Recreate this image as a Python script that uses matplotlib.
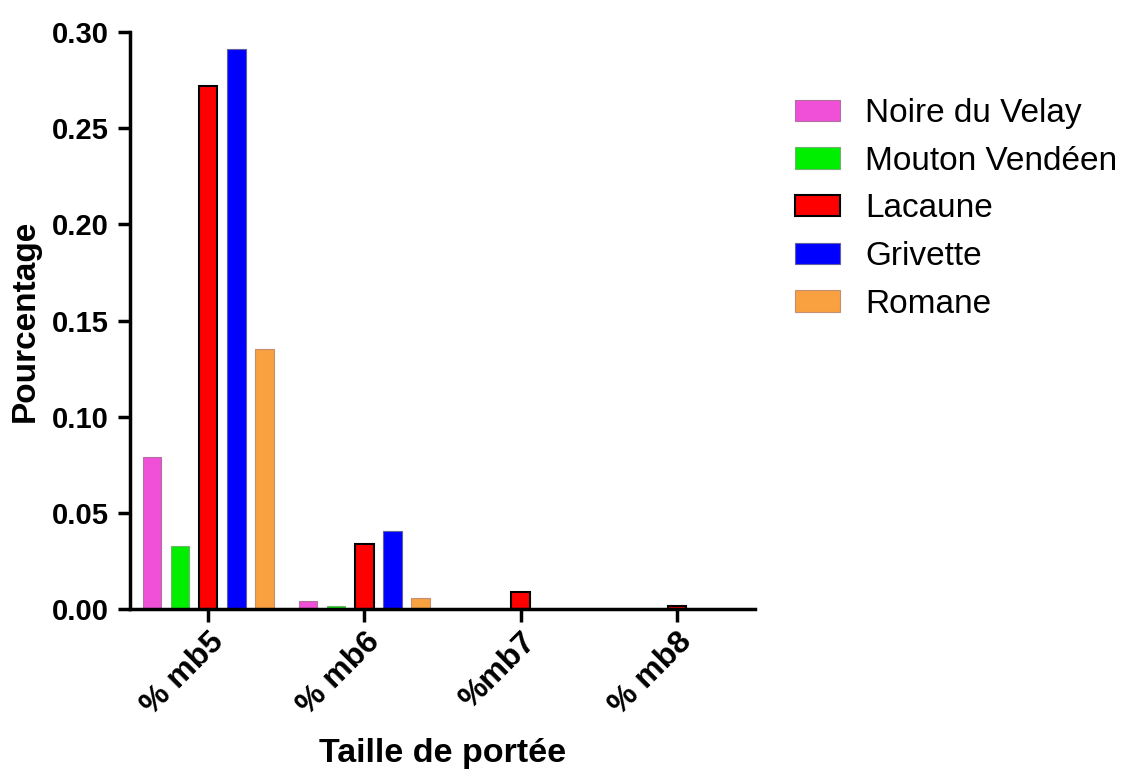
import matplotlib
matplotlib.use('Agg')
import matplotlib.pyplot as plt
import matplotlib.patches as mpatches
import numpy as np

plt.rcParams['font.family'] = ['Liberation Sans', 'DejaVu Sans']

# données
categories = ['% mb5', '% mb6', '%mb7', '% mb8']
races = ['Noire du Velay', 'Mouton Vendéen', 'Lacaune', 'Grivette', 'Romane']
valeurs = {
    'Noire du Velay': [0.079, 0.004, 0.0, 0.0],
    'Mouton Vendéen': [0.033, 0.0015, 0.0, 0.0],
    'Lacaune':        [0.272, 0.034, 0.0089, 0.0015],
    'Grivette':       [0.291, 0.0405, 0.0, 0.0],
    'Romane':         [0.135, 0.0057, 0.0, 0.0],
}
couleurs = ['#f050d8', '#00ee00', '#ff0000', '#0000ff', '#f9a040']
bords = ['#b070a0', '#70b070', '#000000', '#6060a0', '#c09070']

fig = plt.figure(figsize=(11.23, 7.72), dpi=100)
ax = fig.add_axes([0.1158, 0.2111, 0.5565, 0.7474])

x = np.arange(len(categories))
pas = 0.18
largeur = 0.118
for i, race in enumerate(races):
    ax.bar(x + (i - 2) * pas, valeurs[race], width=largeur,
           color=couleurs[i], edgecolor=bords[i],
           linewidth=1.5 if race == 'Lacaune' else 0.8,
           label=race)

ax.set_xlim(-0.5, 3.5)
ax.set_ylim(0, 0.30)
ax.set_yticks([0, 0.05, 0.10, 0.15, 0.20, 0.25, 0.30])
ax.set_yticklabels(['0.00', '0.05', '0.10', '0.15', '0.20', '0.25', '0.30'])
ax.set_xticks(x)
ax.set_xticklabels(categories, rotation=45, ha='right', rotation_mode='anchor')

for s in ['top', 'right']:
    ax.spines[s].set_visible(False)
for s in ['left', 'bottom']:
    ax.spines[s].set_linewidth(2.5)
ax.tick_params(axis='both', width=2.5, length=9)
ax.tick_params(axis='y', pad=6, labelsize=21)
ax.tick_params(axis='x', pad=4, labelsize=23)
for lab in ax.get_xticklabels() + ax.get_yticklabels():
    lab.set_fontweight('bold')

ax.set_ylabel('Pourcentage', fontsize=24, fontweight='bold', labelpad=8)
ax.set_xlabel('Taille de portée', fontsize=24.5, fontweight='bold', labelpad=12)

poignees = [mpatches.Patch(facecolor=couleurs[i], edgecolor=bords[i],
                           linewidth=1.5 if races[i] == 'Lacaune' else 0.8)
            for i in range(len(races))]
ax.legend(poignees, races, loc='upper left', bbox_to_anchor=(0.708, 0.873),
          bbox_transform=fig.transFigure, borderpad=0, borderaxespad=0,
          frameon=False, fontsize=24, handlelength=1.35, handleheight=0.6,
          labelspacing=0.5, handletextpad=0.75)

fig.savefig('out.png', dpi=100)
